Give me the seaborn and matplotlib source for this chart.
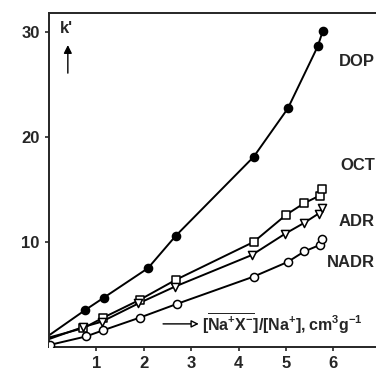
import numpy as np
import pandas as pd
import seaborn as sns
import matplotlib.pyplot as plt

# measured points (x = [Na+X-]/[Na+], y = k')
dop_x = [0.76, 1.16, 2.09, 2.68, 4.32, 5.04, 5.67, 5.78]
dop_y = [3.5, 4.7, 7.5, 10.6, 18.1, 22.7, 28.6, 30.1]
oct_x = [0.73, 1.15, 1.92, 2.68, 4.32, 5.01, 5.39, 5.71, 5.76]
oct_y = [1.8, 2.8, 4.5, 6.4, 10.0, 12.6, 13.7, 14.4, 15.0]
adr_x = [0.72, 1.11, 1.89, 2.66, 4.28, 4.99, 5.38, 5.69, 5.76]
adr_y = [1.9, 2.4, 4.15, 5.75, 8.75, 10.8, 11.8, 12.7, 13.2]
nadr_x = [0.02, 0.78, 1.15, 1.92, 2.70, 4.32, 5.04, 5.39, 5.71, 5.76]
nadr_y = [0.2, 1.0, 1.6, 2.8, 4.1, 6.7, 8.1, 9.1, 9.7, 10.25]
# where each curve meets the k' axis
start_y = {"DOP": 1.1, "OCT": 0.9, "ADR": 0.75, "NADR": 0.3}

x_ticks = [1, 2, 3, 4, 5, 6]
y_ticks = [10, 20, 30]

sns.set_style("ticks")
plt.rcParams["font.family"] = ["Liberation Sans", "DejaVu Sans"]
plt.rcParams["font.weight"] = "bold"
plt.rcParams["mathtext.fontset"] = "custom"
plt.rcParams["mathtext.bf"] = "Liberation Sans:bold"
plt.rcParams["mathtext.rm"] = "Liberation Sans:bold"
plt.rcParams["mathtext.default"] = "bf"

series = {
    "DOP": (dop_x, dop_y, "o", "black"),
    "OCT": (oct_x, oct_y, "s", "white"),
    "ADR": (adr_x, adr_y, "v", "white"),
    "NADR": (nadr_x, nadr_y, "o", "white"),
}

fig = plt.figure(figsize=(3.76, 3.78), dpi=100)
ax = fig.add_axes([0.130, 0.082, 0.870, 0.884])

for name, (xs, ys, mk, fc) in series.items():
    line = pd.DataFrame({"x": [0.0] + xs, "y": [start_y[name]] + ys})
    sns.lineplot(data=line, x="x", y="y", color="black", lw=1.4, ax=ax,
                 sort=True, estimator=None)
    pts = pd.DataFrame({"x": xs, "y": ys})
    sns.scatterplot(data=pts, x="x", y="y", marker=mk, s=34, color=fc,
                    edgecolor="black", linewidth=1.1, ax=ax, zorder=3)

ax.set_xlim(0, 6.9)
ax.set_ylim(0, 31.8)
ax.set_xticks(x_ticks)
ax.set_yticks(y_ticks)
ax.tick_params(labelsize=12, width=1.2, length=3)
for lab in ax.get_xticklabels() + ax.get_yticklabels():
    lab.set_fontweight("bold")
ax.set_xlabel("")
ax.set_ylabel("")
ax.spines["right"].set_visible(False)
for s in ["left", "top", "bottom"]:
    ax.spines[s].set_linewidth(1.4)

lab_kw = dict(fontsize=12, fontweight="bold", ha="right", va="center")
ax.text(6.88, 27.2, "DOP", **lab_kw)
ax.text(6.88, 17.3, "OCT", **lab_kw)
ax.text(6.88, 11.9, "ADR", **lab_kw)
ax.text(6.88, 8.0, "NADR", **lab_kw)

ax.text(0.38, 30.3, "k'", fontsize=12, fontweight="bold", ha="center", va="center")
ax.annotate("", xy=(0.40, 29.0), xytext=(0.40, 25.8),
            arrowprops=dict(arrowstyle="-|>", color="black", lw=1.0,
                            mutation_scale=12))

ax.annotate("", xy=(3.22, 2.2), xytext=(2.35, 2.2),
            arrowprops=dict(arrowstyle="-|>", color="black", fc="white", lw=1.0,
                            mutation_scale=11))
ax.text(3.24, 2.2, r"$[\overline{Na^{+}X^{-}}]/[Na^{+}],cm^{3}g^{-1}$",
        fontsize=11.5, ha="left", va="center")

fig.savefig("out.png", dpi=100)
